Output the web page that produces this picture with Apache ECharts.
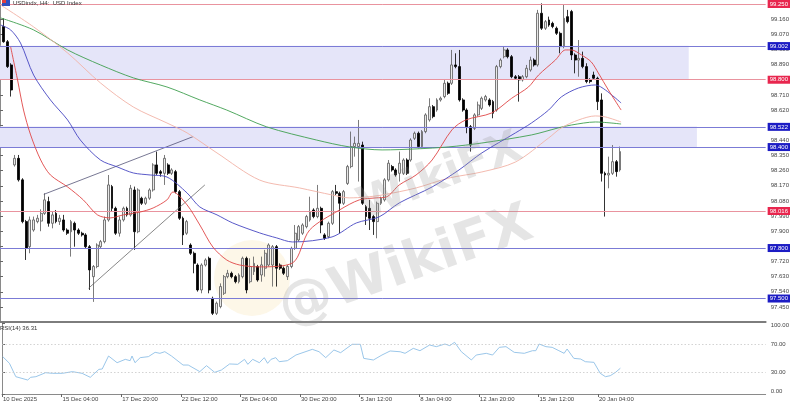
<!DOCTYPE html>
<html><head><meta charset="utf-8">
<script src="https://cdn.jsdelivr.net/npm/echarts@6/dist/echarts.min.js"></script>
<style>html,body{margin:0;padding:0;background:#fff}#c{width:792px;height:405px}</style>
</head><body><div id="c"></div>
<script>
// ---------- data ----------
const xTickIndex = [0,16,32,48,64,80,96,112,128,144,160];
const xTickLabels = ['10 Dec 2025','15 Dec 04:00','17 Dec 20:00','22 Dec 12:00','26 Dec 04:00','30 Dec 20:00','5 Jan 12:00','8 Jan 04:00','12 Jan 20:00','15 Jan 12:00','20 Jan 04:00'];
const priceTicks = [97.45,97.54,97.63,97.72,97.81,97.90,97.99,98.08,98.17,98.26,98.35,98.44,98.53,98.62,98.71,98.80,98.89,98.98,99.07,99.16];
const rsiTicks = [0,30,70,100];
const barCount = 206;

const open = [null,99.116,99.026,98.888,98.294,98.333,98.205,97.957,97.808,97.907,97.957,97.960,98.006,98.076,97.947,98.006,97.957,97.967,97.907,97.897,97.947,97.907,97.888,97.878,97.808,97.630,97.690,97.808,97.838,97.967,98.165,98.036,97.888,97.967,98.036,97.997,98.145,97.897,98.096,98.066,98.096,98.145,98.294,98.254,98.244,98.294,98.244,98.254,98.135,97.977,97.888,97.818,97.769,97.699,97.551,97.699,97.739,97.501,97.412,97.452,97.531,97.630,97.650,97.630,97.600,97.630,97.739,97.600,97.660,97.690,97.640,97.680,97.699,97.699,97.808,97.699,97.680,97.630,97.690,97.798,97.848,97.888,97.927,97.967,98.026,97.987,98.036,97.878,97.868,97.947,98.135,98.125,98.066,98.184,98.284,98.403,98.403,98.412,98.046,98.036,97.987,97.957,98.066,98.086,98.205,98.284,98.264,98.244,98.244,98.323,98.323,98.452,98.482,98.403,98.492,98.561,98.640,98.620,98.680,98.700,98.779,98.779,98.888,98.878,98.680,98.620,98.521,98.511,98.591,98.630,98.680,98.680,98.670,98.620,98.878,98.937,98.977,98.937,98.818,98.818,98.799,98.818,98.858,98.917,98.888,99.195,99.106,99.155,99.135,99.106,99.076,98.997,99.175,99.205,98.947,98.917,98.927,98.878,98.799,98.828,98.809,98.680,98.244,98.234,98.244,98.313,98.264];
const close = [null,99.026,98.878,98.739,98.333,98.205,97.957,97.798,97.967,97.967,97.977,98.006,98.086,97.947,97.997,97.957,97.977,97.907,97.888,97.957,97.907,97.888,97.878,97.808,97.670,97.690,97.818,97.838,97.967,98.175,98.036,97.888,97.967,98.036,97.997,98.155,97.897,98.145,98.066,98.096,98.145,98.294,98.244,98.244,98.333,98.244,98.264,98.135,97.977,97.878,97.957,97.769,97.709,97.551,97.699,97.729,97.551,97.412,97.472,97.571,97.630,97.650,97.630,97.600,97.640,97.739,97.551,97.690,97.709,97.610,97.700,97.769,97.818,97.808,97.680,97.680,97.650,97.690,97.798,97.888,97.927,97.937,97.987,98.016,97.987,98.036,97.937,97.858,97.947,98.135,98.125,98.066,98.135,98.284,98.403,98.422,98.422,98.066,97.987,97.977,97.957,98.066,98.096,98.205,98.304,98.264,98.234,98.304,98.323,98.244,98.442,98.482,98.403,98.492,98.591,98.640,98.581,98.680,98.690,98.779,98.719,98.888,98.878,98.680,98.620,98.521,98.412,98.591,98.650,98.690,98.700,98.650,98.601,98.878,98.917,98.977,98.937,98.818,98.809,98.799,98.818,98.868,98.917,98.888,99.195,99.106,99.145,99.125,99.116,99.076,98.997,99.165,99.145,98.947,98.917,98.927,98.878,98.789,98.789,98.809,98.670,98.244,98.234,98.244,98.313,98.254,98.373];
const low = [null,99.020,98.870,98.700,98.284,98.195,97.947,97.729,97.769,97.897,97.947,97.900,97.997,97.927,97.917,97.947,97.937,97.897,97.878,97.749,97.808,97.878,97.868,97.798,97.551,97.480,97.680,97.798,97.828,97.957,98.016,97.878,97.868,97.957,97.987,97.987,97.789,97.888,98.056,98.056,98.086,98.135,98.234,98.224,98.175,98.234,98.234,98.125,97.967,97.818,97.878,97.759,97.650,97.541,97.531,97.690,97.531,97.402,97.402,97.442,97.521,97.620,97.620,97.590,97.590,97.620,97.531,97.590,97.640,97.600,97.600,97.630,97.690,97.571,97.571,97.670,97.640,97.610,97.680,97.789,97.838,97.878,97.917,97.957,97.977,97.977,97.888,97.848,97.858,97.937,98.115,97.888,98.056,98.175,98.274,98.343,98.195,98.056,97.937,97.907,97.878,97.858,98.056,98.076,98.195,98.254,98.224,98.195,98.234,98.234,98.313,98.442,98.393,98.393,98.482,98.551,98.571,98.610,98.670,98.690,98.710,98.769,98.868,98.670,98.610,98.482,98.373,98.501,98.581,98.620,98.670,98.640,98.571,98.610,98.868,98.927,98.927,98.809,98.799,98.670,98.789,98.809,98.848,98.878,98.878,99.096,99.096,99.115,99.106,99.066,98.957,98.987,99.135,98.917,98.838,98.818,98.868,98.779,98.779,98.799,98.620,98.195,97.987,98.155,98.234,98.224,98.254];
const high = [null,99.165,99.036,98.898,98.353,98.353,98.215,97.967,97.987,97.987,97.997,98.030,98.125,98.105,98.016,98.026,97.997,97.997,97.917,97.967,97.957,97.917,97.897,97.888,97.818,97.699,97.828,97.848,97.987,98.234,98.175,98.046,97.987,98.046,98.046,98.175,98.165,98.155,98.105,98.105,98.155,98.304,98.373,98.264,98.353,98.304,98.274,98.264,98.145,97.987,97.967,97.828,97.779,97.709,97.709,97.739,97.749,97.511,97.482,97.590,97.640,97.670,97.660,97.640,97.650,97.749,97.749,97.739,97.749,97.700,97.749,97.789,97.828,97.818,97.818,97.709,97.690,97.699,97.808,97.937,97.937,97.947,97.997,98.105,98.036,98.175,98.046,97.888,97.957,98.145,98.175,98.135,98.145,98.294,98.492,98.462,98.561,98.432,98.056,98.086,97.997,98.076,98.105,98.215,98.323,98.294,98.274,98.373,98.333,98.333,98.452,98.492,98.492,98.501,98.601,98.690,98.650,98.690,98.700,98.799,98.789,98.977,98.957,98.977,98.690,98.630,98.531,98.601,98.670,98.700,98.710,98.690,98.680,98.888,98.927,98.997,98.987,98.947,98.828,98.828,98.828,98.888,98.937,98.927,99.215,99.254,99.155,99.175,99.145,99.116,99.086,99.244,99.215,99.215,98.957,99.036,98.967,98.898,98.809,98.848,98.818,98.719,98.254,98.343,98.412,98.323,98.403];

const maFast = [[2.85,98.995],[4.7,98.799],[6.3,98.62],[8.2,98.472],[10.9,98.323],[13.5,98.234],[18.1,98.163],[22.3,98.086],[26.1,97.997],[29.5,97.979],[33,97.997],[37.5,98.014],[41,98.038],[44.7,98.086],[46.3,98.133],[50.1,98.056],[53.5,97.937],[57,97.806],[60.7,97.729],[64.2,97.699],[69.5,97.688],[78.3,97.711],[82.9,97.907],[90.9,98.026],[96.2,98.086],[100.7,98.098],[103.4,98.103],[106.9,98.175],[111.4,98.234],[115.7,98.323],[121,98.502],[124.7,98.561],[131.7,98.603],[137,98.69],[141.5,98.757],[144.2,98.828],[148.7,98.917],[151.4,98.977],[153,98.977],[155.7,98.947],[158.3,98.906],[160.2,98.84],[162.9,98.739],[166.3,98.62]];
const maMid = [[0.19,99.125],[2.85,99.096],[5.5,99.018],[9,98.828],[13.5,98.68],[18.1,98.561],[21.5,98.442],[26.9,98.323],[31.4,98.282],[35.7,98.246],[40.2,98.234],[44.7,98.222],[50.1,98.127],[53.5,98.044],[58.1,97.997],[62.3,97.949],[69.5,97.89],[74.1,97.86],[78.3,97.836],[88.9,97.866],[95.4,97.949],[101.5,97.985],[106.9,98.068],[115.7,98.163],[122.9,98.264],[129,98.365],[138,98.484],[142.3,98.543],[146.9,98.62],[150.3,98.698],[154.9,98.751],[159.4,98.769],[162.1,98.739],[166.3,98.662]];
const maSlow = [[0.19,99.244],[9,99.114],[18.1,98.959],[26.9,98.781],[35.7,98.638],[44.7,98.543],[50.1,98.484],[58.1,98.365],[69.5,98.204],[80.2,98.157],[89,98.115],[93.5,98.098],[98,98.103],[102.3,98.115],[111.4,98.157],[120.2,98.216],[129,98.252],[138,98.311],[146.9,98.454],[150.3,98.514],[154.9,98.561],[159.4,98.585],[162.1,98.579],[166.3,98.549]];
const maLong = [[0.19,99.167],[9,99.096],[18.1,98.977],[26.9,98.888],[35.7,98.811],[44.7,98.757],[53.5,98.68],[60.7,98.62],[71.4,98.52],[84.7,98.442],[93.5,98.401],[102.3,98.383],[111.4,98.389],[120.2,98.401],[129,98.424],[142.3,98.472],[149.5,98.514],[153,98.531],[159.4,98.549],[166.3,98.537]];

const rsi = [[0.2,52.6],[2,43.2],[3.7,24.4],[6.9,19.7],[7.7,23.5],[9.1,24.4],[11.7,30.0],[13.5,29.1],[16.2,29.1],[18.9,31.5],[21.5,29.1],[23.7,23.5],[26,34.7],[26.9,35.2],[28.6,53.5],[30.9,44.1],[33.1,48.8],[34.4,46.9],[34.9,53.5],[35.7,44.1],[37.1,51.2],[39.3,52.6],[41.1,58.7],[42.4,57.3],[43.7,59.6],[45.5,53.5],[48.6,40.8],[50,40.8],[53.1,31.5],[54.9,39.9],[57.1,30.5],[58.9,33.8],[61.1,42.3],[63.3,41.8],[65.1,48.8],[66,41.8],[67.3,48.8],[69.1,44.1],[70.4,51.2],[71.3,43.2],[72.2,48.8],[73.5,51.2],[74.4,45.5],[76.6,46.9],[78.9,54.9],[83.3,62.9],[85.1,59.6],[86.9,51.2],[89.1,62.0],[90.9,58.2],[94,70.0],[96.2,70.0],[97.1,50.2],[99.7,47.9],[102,54.9],[104.2,60.6],[106.9,59.5],[108.2,57.3],[110.4,64.3],[112.2,61.0],[114.8,69.0],[116.6,66.7],[118.9,70.4],[120.2,68.1],[121.5,72.8],[123.3,59.6],[126,47.9],[127.3,54.9],[130,57.3],[131.7,54.9],[133.5,65.7],[135.3,66.7],[137.5,58.7],[140.2,57.3],[142.4,61.0],[143.3,61.0],[144.2,70.4],[146,66.7],[147.7,65.7],[149.5,61.0],[150.9,57.3],[151.7,63.4],[153.5,50.2],[155.3,49.3],[156.6,45.5],[158.9,44.6],[160.6,29.1],[162,24.4],[163.3,25.8],[164.7,30.5],[166,36.3]];
const rsiLevels = [70,30];

const redLevels = [99.250, 98.800, 98.016];
const blueLevels = [99.002, 98.522, 98.400, 97.800, 97.500];
const zoneTop = [99.002, 98.522];
const zoneBottom = [98.800, 98.400];
const zoneEnd = [184.4, 186.6];
const trendA = [[11.73,98.119],[51.7,98.462]];
const trendB = [[23.7,97.561],[54.85,98.175]];

// ---------- chart ----------
const FONT = 'Liberation Sans';
const categories = Array.from({length: barCount}, (_, i) => i);
const candles = open.map((o, i) => o == null ? '-' : [o, close[i], low[i], high[i]]);
const priceMin = 97.3605, priceMax = 99.2738;

function levelLine(v, color, box) {
  return {
    yAxis: v, name: v.toFixed(3),
    lineStyle: {color: color, width: 1, type: 'solid'},
    label: {show: true, position: 'end', formatter: '{b}', distance: 2, color: '#fff',
      fontSize: 6, fontFamily: FONT, backgroundColor: box, padding: [1, 2, 1, 2]}
  };
}
const levelData = redLevels.map(v => levelLine(v, '#e9939e', '#e8264e'))
  .concat(blueLevels.map(v => levelLine(v, '#7b7bd6', '#1c1cc4')));

function maSeries(data, color) {
  return {type: 'line', xAxisIndex: 1, yAxisIndex: 0, data: data, showSymbol: false,
    smooth: 0.3, lineStyle: {color: color, width: 0.9}, z: 5, silent: true};
}

const chart = echarts.init(document.getElementById('c'), null, {renderer: 'canvas'});
chart.setOption({
  animation: false,
  backgroundColor: '#ffffff',
  textStyle: {fontFamily: FONT},
  grid: [
    {left: 0, right: 25, top: 0, height: 322},
    {left: 0, right: 25, top: 323, height: 71}
  ],
  xAxis: [
    {type: 'category', gridIndex: 0, data: categories, boundaryGap: false,
      axisLine: {show: true, lineStyle: {color: '#7d7d7d', width: 2}},
      axisTick: {show: false}, axisLabel: {show: false}, splitLine: {show: false}},
    {type: 'value', gridIndex: 0, min: 0, max: barCount - 1, show: false},
    {type: 'value', gridIndex: 1, min: 0, max: barCount - 1,
      axisLine: {show: true, lineStyle: {color: '#8a8a8a', width: 1}},
      axisTick: {show: true, length: 3, customValues: xTickIndex, lineStyle: {color: '#666'}},
      axisLabel: {show: true, customValues: xTickIndex, align: 'left', margin: 2, padding: [0,0,0,1],
        fontSize: 6, color: '#444', fontFamily: FONT,
        formatter: v => xTickLabels[xTickIndex.indexOf(Math.round(v))] || ''},
      splitLine: {show: false}}
  ],
  yAxis: [
    {type: 'value', gridIndex: 0, position: 'right', min: priceMin, max: priceMax, scale: true,
      axisLine: {show: true, lineStyle: {color: '#8a8a8a', width: 1}},
      axisTick: {show: true, length: 3, customValues: priceTicks, lineStyle: {color: '#666'}},
      axisLabel: {show: true, customValues: priceTicks, margin: 5, fontSize: 6, color: '#444',
        fontFamily: FONT, formatter: v => v.toFixed(3)},
      splitLine: {show: false}},
    {type: 'value', gridIndex: 1, position: 'right', min: 0, max: 100,
      axisLine: {show: true, lineStyle: {color: '#8a8a8a', width: 1}},
      axisTick: {show: true, length: 3, customValues: rsiTicks, lineStyle: {color: '#666'}},
      axisLabel: {show: true, customValues: rsiTicks, margin: 5, fontSize: 6, color: '#444', fontFamily: FONT,
        formatter: v => v === 100 ? '{t|100.00}' : (v === 0 ? '{b|0.00}' : v.toFixed(2)),
        rich: {t: {fontSize: 6, color: '#444', fontFamily: FONT, padding: [5,0,0,0]},
               b: {fontSize: 6, color: '#444', fontFamily: FONT, padding: [0,0,6,0]}}},
      splitLine: {show: false}}
  ],
  series: [
    {type: 'line', name: 'levels', xAxisIndex: 1, yAxisIndex: 0, data: [], clip: false, z: 1, silent: true,
      markArea: {silent: true, itemStyle: {color: '#e5e5f9'},
        data: zoneTop.map((t, k) => [{coord: [0, t]}, {coord: [zoneEnd[k], zoneBottom[k]]}])},
      markLine: {silent: true, symbol: ['none','none'], animation: false, data: levelData}},
    {type: 'candlestick', xAxisIndex: 0, yAxisIndex: 0, data: candles, barWidth: 2.4, z: 3, silent: true,
      itemStyle: {color: '#e8e8e8', color0: '#000000', borderColor: '#5a5a5a', borderColor0: '#000000', borderWidth: 0.8}},
    {type: 'line', xAxisIndex: 1, yAxisIndex: 0, data: trendA, showSymbol: false, lineStyle: {color: '#3c3c64', width: 0.7}, z: 4, silent: true},
    {type: 'line', xAxisIndex: 1, yAxisIndex: 0, data: trendB, showSymbol: false, lineStyle: {color: '#555555', width: 0.7}, z: 4, silent: true},
    maSeries(maLong, '#3f9f4f'),
    maSeries(maSlow, '#f2b2a6'),
    maSeries(maMid, '#4646c2'),
    maSeries(maFast, '#e04646'),
    {type: 'line', xAxisIndex: 2, yAxisIndex: 1, data: rsi, showSymbol: false, silent: true,
      lineStyle: {color: '#8fc0e6', width: 0.9}, z: 4,
      markLine: {silent: true, symbol: ['none','none'], label: {show: false},
        lineStyle: {color: '#c8c8c8', type: [1.5, 2], width: 0.8},
        data: rsiLevels.map(v => ({yAxis: v}))}}
  ],
  graphic: [
    {type: 'circle', shape: {cx: 252, cy: 278, r: 38}, z: 0, silent: true, style: {fill: 'rgba(248,232,190,0.35)'}},
    {type: 'text', left: 352, top: 126, rotation: 0.37, z: 10, silent: true,
      style: {text: 'WikiFX', fontSize: 44, fontWeight: 'bold', fontFamily: 'DejaVu Sans', fill: 'rgba(150,150,150,0.25)'}},
    {type: 'text', left: 272, top: 198, rotation: 0.34, z: 10, silent: true,
      style: {text: '@WikiFX', fontSize: 54, fontWeight: 'bold', fontFamily: 'DejaVu Sans', fill: 'rgba(150,150,150,0.25)'}},
    {type: 'rect', shape: {x: 2, y: 0, width: 8, height: 6}, z: 10, style: {fill: '#3050c0'}},
    {type: 'rect', shape: {x: 2, y: 0, width: 4, height: 3}, z: 10, style: {fill: '#e04040'}},
    {type: 'text', left: 13, top: 0, z: 10, style: {text: 'USDindx, H4:  USD Index', fontSize: 6, fontFamily: FONT, fill: '#333'}},
    {type: 'text', left: 0, top: 325, z: 10, style: {text: 'RSI(14) 36.31', fontSize: 6, fontFamily: FONT, fill: '#333'}}
  ]
});
</script>
</body></html>
